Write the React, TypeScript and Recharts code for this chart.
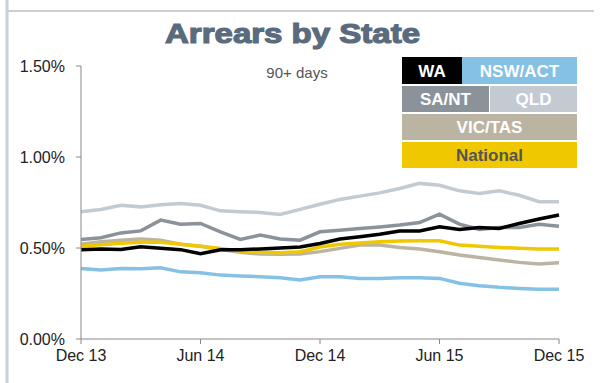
import React from "react";
import { LineChart, Line, XAxis, YAxis } from "recharts";

const months = [
  "Dec 13", "Jan 14", "Feb 14", "Mar 14", "Apr 14", "May 14", "Jun 14",
  "Jul 14", "Aug 14", "Sep 14", "Oct 14", "Nov 14", "Dec 14",
  "Jan 15", "Feb 15", "Mar 15", "Apr 15", "May 15", "Jun 15",
  "Jul 15", "Aug 15", "Sep 15", "Oct 15", "Nov 15", "Dec 15",
];

const wa = [0.49, 0.494, 0.492, 0.507, 0.499, 0.491, 0.468, 0.49, 0.49, 0.495, 0.5, 0.506, 0.525, 0.549, 0.562, 0.576, 0.593, 0.593, 0.616, 0.602, 0.613, 0.607, 0.635, 0.659, 0.681];
const nswAct = [0.388, 0.379, 0.388, 0.386, 0.391, 0.369, 0.364, 0.351, 0.346, 0.342, 0.336, 0.324, 0.342, 0.342, 0.333, 0.333, 0.336, 0.336, 0.333, 0.306, 0.293, 0.284, 0.278, 0.274, 0.274];
const saNt = [0.547, 0.556, 0.583, 0.594, 0.653, 0.631, 0.635, 0.589, 0.547, 0.571, 0.549, 0.543, 0.589, 0.598, 0.607, 0.616, 0.626, 0.64, 0.686, 0.631, 0.602, 0.613, 0.613, 0.631, 0.62];
const qld = [0.699, 0.712, 0.735, 0.726, 0.737, 0.745, 0.735, 0.704, 0.699, 0.695, 0.684, 0.712, 0.74, 0.767, 0.785, 0.803, 0.827, 0.855, 0.845, 0.814, 0.8, 0.814, 0.79, 0.754, 0.754];
const vicTas = [0.521, 0.534, 0.543, 0.549, 0.543, 0.521, 0.51, 0.492, 0.476, 0.467, 0.465, 0.467, 0.48, 0.498, 0.516, 0.516, 0.503, 0.494, 0.479, 0.461, 0.448, 0.434, 0.421, 0.412, 0.419];
const national = [0.51, 0.518, 0.526, 0.532, 0.532, 0.521, 0.51, 0.498, 0.483, 0.476, 0.474, 0.479, 0.505, 0.521, 0.528, 0.534, 0.538, 0.54, 0.54, 0.516, 0.51, 0.503, 0.498, 0.494, 0.494];

const yTicks = [0, 0.5, 1, 1.5];

const data = months.map((m, i) => ({
  month: m,
  wa: wa[i],
  nswAct: nswAct[i],
  saNt: saNt[i],
  qld: qld[i],
  vicTas: vicTas[i],
  national: national[i],
}));

const C = {
  wa: "#000000",
  nswAct: "#85c1e4",
  saNt: "#8b929a",
  qld: "#c3cad1",
  vicTas: "#bcb4a2",
  national: "#f0c800",
};

const font = "'Liberation Sans', Arial, sans-serif";

const legendBoxes = [
  { label: "WA", x: 402, y: 57, w: 60, h: 27, bg: C.wa, fg: "#ffffff" },
  { label: "NSW/ACT", x: 462, y: 57, w: 115, h: 27, bg: C.nswAct, fg: "#ffffff" },
  { label: "SA/NT", x: 402, y: 86, w: 87, h: 26, bg: C.saNt, fg: "#ffffff" },
  { label: "QLD", x: 490, y: 86, w: 87, h: 26, bg: C.qld, fg: "#ffffff" },
  { label: "VIC/TAS", x: 402, y: 114, w: 175, h: 26, bg: C.vicTas, fg: "#ffffff" },
  { label: "National", x: 402, y: 142, w: 175, h: 26, bg: C.national, fg: "#555555" },
];

export default function App() {
  return (
    <div style={{ position: "absolute", left: 0, top: 0, width: 605, height: 383, background: "#fff", fontFamily: font }}>
      <LineChart
        width={605}
        height={383}
        data={data}
        margin={{ top: 66, right: 46, bottom: 14, left: 0 }}
      >
        <XAxis
          dataKey="month"
          interval={5}
          tickSize={5}
          tickMargin={6}
          height={30}
          axisLine={{ stroke: "#888888" }}
          tickLine={{ stroke: "#888888" }}
          tick={{ fill: "#222222", fontSize: 16, fontFamily: font }}
        />
        <YAxis
          domain={[0, 1.5]}
          ticks={yTicks}
          width={81}
          tickSize={5}
          tickMargin={11}
          tickFormatter={(v: number) => v.toFixed(2) + "%"}
          axisLine={{ stroke: "#888888" }}
          tickLine={{ stroke: "#888888" }}
          tick={{ fill: "#222222", fontSize: 16, fontFamily: font }}
        />
        <Line dataKey="qld" stroke={C.qld} strokeWidth={3.5} dot={false} isAnimationActive={false} />
        <Line dataKey="saNt" stroke={C.saNt} strokeWidth={3.5} dot={false} isAnimationActive={false} />
        <Line dataKey="nswAct" stroke={C.nswAct} strokeWidth={3.5} dot={false} isAnimationActive={false} />
        <Line dataKey="vicTas" stroke={C.vicTas} strokeWidth={3.5} dot={false} isAnimationActive={false} />
        <Line dataKey="national" stroke={C.national} strokeWidth={3.5} dot={false} isAnimationActive={false} />
        <Line dataKey="wa" stroke={C.wa} strokeWidth={3.5} dot={false} isAnimationActive={false} />
      </LineChart>
      <svg width={605} height={383} style={{ position: "absolute", left: 0, top: 0, pointerEvents: "none" }}>
        <line x1={7} y1={0} x2={7} y2={383} stroke="#c8d0d6" strokeWidth={3} />
        <line x1={7} y1={11} x2={594} y2={11} stroke="#c8d0d6" strokeWidth={2} />
        <text
          x={165}
          y={43}
          textLength={255}
          lengthAdjust="spacingAndGlyphs"
          fontFamily={font}
          fontWeight="bold"
          fontSize={28}
          fill="#5a6b7d"
          stroke="#5a6b7d"
          strokeWidth={1.2}
        >
          Arrears by State
        </text>
        <text x={297} y={78} textAnchor="middle" fontFamily={font} fontSize={15} fill="#555555">
          90+ days
        </text>
        {legendBoxes.map((b) => (
          <g key={b.label}>
            <rect x={b.x} y={b.y} width={b.w} height={b.h} fill={b.bg} />
            <text
              x={b.x + b.w / 2}
              y={b.y + b.h / 2 + 6}
              textAnchor="middle"
              fontFamily={font}
              fontWeight="bold"
              fontSize={17}
              fill={b.fg}
            >
              {b.label}
            </text>
          </g>
        ))}
      </svg>
    </div>
  );
}
